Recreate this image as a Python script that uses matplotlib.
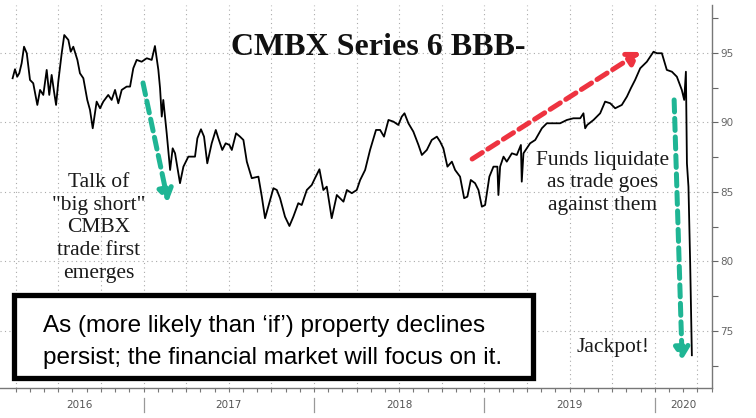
import matplotlib
matplotlib.use("Agg")
import matplotlib.pyplot as plt
import matplotlib.patches as patches
import matplotlib.transforms as mtransforms
import numpy as np

# CMBX Series 6 BBB- price (time in decimal years)
t = [2016.232, 2016.246, 2016.259, 2016.271, 2016.285, 2016.299, 2016.315, 2016.334,
     2016.353, 2016.377, 2016.393, 2016.412, 2016.432, 2016.447, 2016.461, 2016.475,
     2016.487, 2016.500, 2016.520, 2016.535, 2016.559, 2016.573, 2016.588, 2016.612,
     2016.627, 2016.647, 2016.670, 2016.686, 2016.702, 2016.725, 2016.745, 2016.764,
     2016.793, 2016.813, 2016.833, 2016.852, 2016.872, 2016.901, 2016.921, 2016.940,
     2016.960, 2016.989, 2017.019, 2017.048, 2017.067, 2017.087, 2017.097, 2017.107,
     2017.116, 2017.136, 2017.156, 2017.171, 2017.185, 2017.214, 2017.234, 2017.263,
     2017.283, 2017.302, 2017.316, 2017.337, 2017.355, 2017.374, 2017.400, 2017.424,
     2017.439, 2017.462, 2017.482, 2017.504, 2017.518, 2017.543, 2017.566, 2017.586,
     2017.606, 2017.635, 2017.674, 2017.694, 2017.713, 2017.732, 2017.762, 2017.782,
     2017.801, 2017.830, 2017.856, 2017.879, 2017.908, 2017.928, 2017.958, 2017.987,
     2018.006, 2018.032, 2018.055, 2018.075, 2018.104, 2018.134, 2018.153, 2018.173,
     2018.193, 2018.222, 2018.251, 2018.271, 2018.300, 2018.329, 2018.364, 2018.388,
     2018.411, 2018.437, 2018.466, 2018.495, 2018.515, 2018.531, 2018.554, 2018.583,
     2018.613, 2018.633, 2018.662, 2018.691, 2018.721, 2018.740, 2018.759, 2018.783,
     2018.809, 2018.828, 2018.857, 2018.881, 2018.900, 2018.920, 2018.945, 2018.965,
     2018.985, 2019.004, 2019.029, 2019.053, 2019.076, 2019.082, 2019.092, 2019.112,
     2019.131, 2019.161, 2019.190, 2019.214, 2019.219, 2019.229, 2019.268, 2019.298,
     2019.337, 2019.366, 2019.405, 2019.444, 2019.484, 2019.522, 2019.562, 2019.581,
     2019.591, 2019.603, 2019.640, 2019.679, 2019.708, 2019.738, 2019.767, 2019.806,
     2019.836, 2019.859, 2019.884, 2019.914, 2019.953, 2019.992, 2020.012, 2020.041,
     2020.070, 2020.100, 2020.129, 2020.158, 2020.172, 2020.182, 2020.188, 2020.197,
     2020.207, 2020.217]
price = [93.18, 93.83, 93.29, 93.54, 94.26, 95.45, 94.98, 93.06,
         92.82, 91.26, 92.34, 91.98, 93.78, 91.98, 93.42, 92.22,
         91.26, 92.94, 94.98, 96.29, 95.94, 95.09, 95.45, 94.50,
         93.54, 93.18, 91.62, 90.90, 89.58, 91.50, 91.02, 91.50,
         91.98, 91.62, 92.34, 91.38, 92.34, 92.58, 92.58, 93.90,
         94.50, 94.37, 94.62, 94.50, 95.50, 93.78, 92.46, 90.42,
         91.62, 89.22, 86.58, 88.14, 87.78, 85.63, 86.82, 87.54,
         87.54, 87.54, 88.86, 89.51, 88.98, 87.06, 88.50, 89.46,
         88.86, 88.02, 88.50, 88.38, 88.02, 89.22, 88.98, 88.74,
         87.18, 85.99, 86.10, 84.66, 83.11, 83.94, 85.27, 85.14,
         84.55, 83.22, 82.55, 83.22, 84.19, 84.06, 85.14, 85.50,
         85.99, 86.63, 85.14, 85.38, 83.11, 84.78, 84.55, 84.30,
         85.14, 84.91, 85.14, 85.86, 86.58, 88.02, 89.46, 89.46,
         88.98, 90.18, 90.06, 89.82, 90.42, 90.66, 89.94, 89.34,
         88.38, 87.66, 88.02, 88.74, 88.98, 88.62, 88.14, 86.82,
         87.18, 86.58, 86.10, 84.55, 84.66, 85.86, 85.63, 85.14,
         83.94, 84.06, 86.10, 86.82, 86.82, 84.78, 86.82, 87.54,
         87.18, 87.78, 87.66, 88.38, 85.74, 87.78, 88.50, 88.74,
         89.58, 89.94, 89.94, 89.94, 90.18, 90.30, 90.30, 90.66,
         89.58, 89.82, 90.18, 90.66, 91.50, 91.38, 91.02, 91.26,
         91.86, 92.46, 93.06, 93.90, 94.37, 95.09, 94.98, 94.98,
         93.78, 93.65, 93.29, 92.34, 91.62, 93.65, 87.06, 85.38,
         79.89, 73.25]

years = [2016, 2017, 2018, 2019, 2020]
y_ticks = [75, 80, 85, 90, 95]

W, H = 756, 418
X_LO, X_HI = 2016.158, 2020.336


def fig_xy(px, py):
    # pixel position (from top-left) -> figure fraction
    return px / W, 1 - py / H


fig = plt.figure(figsize=(W / 100, H / 100), dpi=100)
ax = fig.add_axes([0, 0.072, 0.942, 0.916])

ax.plot(t, price, color="black", lw=1.3, zorder=3)

ax.set_xlim(X_LO, X_HI)
ax.set_ylim(70.9, 98.45)

for s in ["top", "left"]:
    ax.spines[s].set_visible(False)
for s in ["right", "bottom"]:
    ax.spines[s].set_color("#777777")
    ax.spines[s].set_linewidth(1.0)

ax.yaxis.tick_right()
ax.set_yticks(y_ticks)
ax.set_yticks(np.arange(72.5, 98.5, 5), minor=True)
ax.tick_params(axis="y", which="both", direction="out", length=4, width=0.8,
               colors="#666666", labelsize=7.5, pad=2)

ax.set_xticks(np.arange(2016.25, X_HI, 0.25))
ax.set_xticks(np.arange(2016.25, X_HI, 1 / 12), minor=True)
ax.tick_params(axis="x", which="both", direction="out", length=3, width=0.8,
               colors="#777777", labelbottom=False)

ax.grid(True, which="major", color="#aaaaaa", lw=0.8, ls=(0, (1, 3)))

# year labels and separators under the axis
trans = mtransforms.blended_transform_factory(ax.transData, ax.transAxes)
for yr in years:
    lo, hi = max(yr, 2016.25), min(yr + 1, X_HI)
    ax.text((lo + hi) / 2, -0.045, str(yr), transform=trans, ha="center",
            va="center", fontsize=7.5, color="#555555",
            family="Liberation Sans Narrow")
    if yr > 2016:
        ax.plot([yr, yr], [-0.027, -0.063], transform=trans, color="#999999",
                lw=0.9, clip_on=False)

# last value tag
ax.text(1.01, price[-1], f"{price[-1]:.3f}", transform=trans, ha="left", va="center",
        fontsize=7, color="white", family="Liberation Sans Narrow",
        bbox=dict(boxstyle="round,pad=0.2", fc="black", ec="black"))

# dashed arrows
teal = "#1fb594"
red = "#ee3340"
arrows = [((2016.997, 92.84), (2017.144, 84.28), teal),
          ((2018.928, 87.37), (2019.914, 95.07), red),
          ((2020.113, 91.62), (2020.160, 72.91), teal)]
for start, end, col in arrows:
    arr = patches.FancyArrowPatch(start, end, transform=ax.transData,
                                  arrowstyle="-|>,head_length=7,head_width=4.5",
                                  mutation_scale=1, lw=3.6, color=col,
                                  linestyle=(0, (2.4, 1.3)), shrinkA=0, shrinkB=0,
                                  zorder=4)
    ax.add_patch(arr)

# title and comments
serif = "Liberation Serif"
ink = "#1a1a1a"
fig.text(*fig_xy(378, 55), "CMBX Series 6 BBB-", ha="center", va="baseline",
         fontsize=23, fontweight="bold", family=serif, color="#111111")

talk = ["Talk of", '"big short"', "CMBX", "trade first", "emerges"]
for i, line in enumerate(talk):
    fig.text(*fig_xy(99, 187 + 22.7 * i), line, ha="center", va="baseline",
             fontsize=15.5, family=serif, color=ink)

funds = ["Funds liquidate", "as trade goes", "against them"]
for i, line in enumerate(funds):
    fig.text(*fig_xy(603, 165 + 22.5 * i), line, ha="center", va="baseline",
             fontsize=15.5, family=serif, color=ink)

fig.text(*fig_xy(613, 352), "Jackpot!", ha="center", va="baseline",
         fontsize=15.5, family=serif, color=ink)

# boxed statement
x0, y0 = fig_xy(14, 378)
x1, y1 = fig_xy(533, 295)
box = patches.Rectangle((x0, y0), x1 - x0, y1 - y0, transform=fig.transFigure,
                        fc="white", ec="black", lw=3.8, zorder=10)
fig.add_artist(box)
fig.text(*fig_xy(43, 332), "As (more likely than \u2018if\u2019) property declines",
         ha="left", va="baseline", fontsize=17.5, family="Liberation Sans",
         color="black", zorder=11)
fig.text(*fig_xy(43, 364), "persist; the financial market will focus on it.",
         ha="left", va="baseline", fontsize=17.5, family="Liberation Sans",
         color="black", zorder=11)

fig.savefig("out.png", dpi=100)
